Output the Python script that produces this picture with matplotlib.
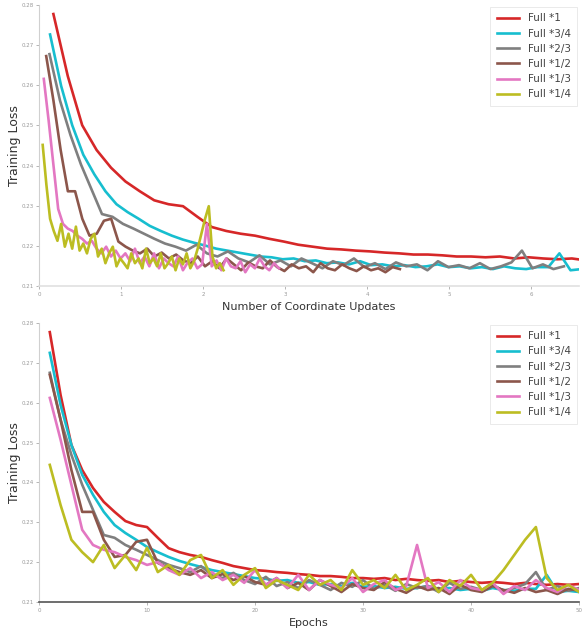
import numpy as np
import matplotlib
matplotlib.use("Agg")
import matplotlib.pyplot as plt

# training loss per epoch (epochs 1..50), one list per subset size
labels = ["Full *1", "Full *3/4", "Full *2/3", "Full *1/2", "Full *1/3", "Full *1/4"]
colors = ["#d62728", "#17becf", "#7f7f7f", "#8c564b", "#e377c2", "#bcbd22"]

loss_1 = [0.2777, 0.2619, 0.2494, 0.2431, 0.2386, 0.2351, 0.2326, 0.2303, 0.2293, 0.2288,
          0.2261, 0.2235, 0.2225, 0.2218, 0.2213, 0.2205, 0.2198, 0.2190, 0.2185, 0.2180,
          0.2178, 0.2175, 0.2173, 0.2170, 0.2168, 0.2165, 0.2165, 0.2163, 0.2160, 0.2160,
          0.2158, 0.2160, 0.2155, 0.2158, 0.2155, 0.2153, 0.2155, 0.2150, 0.2153, 0.2150,
          0.2148, 0.2150, 0.2148, 0.2145, 0.2148, 0.2145, 0.2143, 0.2145, 0.2143, 0.2145]
loss_3_4 = [0.2725, 0.2594, 0.2494, 0.2419, 0.2369, 0.2326, 0.2293, 0.2273, 0.2256, 0.2238,
            0.2225, 0.2213, 0.2203, 0.2195, 0.2188, 0.2180, 0.2175, 0.2170, 0.2165, 0.2160,
            0.2158, 0.2153, 0.2155, 0.2148, 0.2150, 0.2143, 0.2145, 0.2140, 0.2148, 0.2138,
            0.2140, 0.2135, 0.2138, 0.2133, 0.2135, 0.2140, 0.2133, 0.2135, 0.2130, 0.2133,
            0.2128, 0.2135, 0.2130, 0.2128, 0.2133, 0.2133, 0.2168, 0.2125, 0.2128, 0.2125]
loss_2_3 = [0.2675, 0.2557, 0.2469, 0.2394, 0.2331, 0.2268, 0.2261, 0.2243, 0.2231, 0.2218,
            0.2205, 0.2193, 0.2185, 0.2175, 0.2190, 0.2168, 0.2160, 0.2173, 0.2155, 0.2145,
            0.2163, 0.2140, 0.2150, 0.2135, 0.2155, 0.2143, 0.2130, 0.2148, 0.2138, 0.2155,
            0.2133, 0.2143, 0.2128, 0.2145, 0.2135, 0.2140, 0.2125, 0.2148, 0.2133, 0.2138,
            0.2130, 0.2143, 0.2128, 0.2135, 0.2145, 0.2175, 0.2130, 0.2140, 0.2128, 0.2135]
loss_1_2 = [0.2670, 0.2557, 0.2431, 0.2326, 0.2326, 0.2256, 0.2213, 0.2218, 0.2251, 0.2256,
            0.2198, 0.2185, 0.2175, 0.2168, 0.2180, 0.2160, 0.2170, 0.2155, 0.2165, 0.2150,
            0.2143, 0.2160, 0.2135, 0.2148, 0.2130, 0.2155, 0.2140, 0.2125, 0.2145, 0.2135,
            0.2130, 0.2150, 0.2133, 0.2123, 0.2140, 0.2130, 0.2135, 0.2120, 0.2143, 0.2130,
            0.2125, 0.2140, 0.2130, 0.2123, 0.2135, 0.2125, 0.2130, 0.2120, 0.2133, 0.2128]
loss_1_3 = [0.2612, 0.2507, 0.2394, 0.2281, 0.2243, 0.2231, 0.2225, 0.2213, 0.2205, 0.2193,
            0.2200, 0.2180, 0.2168, 0.2185, 0.2160, 0.2175, 0.2155, 0.2168, 0.2148, 0.2180,
            0.2143, 0.2160, 0.2135, 0.2168, 0.2130, 0.2155, 0.2143, 0.2135, 0.2160, 0.2125,
            0.2145, 0.2155, 0.2130, 0.2140, 0.2243, 0.2135, 0.2150, 0.2125, 0.2155, 0.2135,
            0.2130, 0.2148, 0.2120, 0.2140, 0.2130, 0.2155, 0.2135, 0.2125, 0.2143, 0.2130]
loss_1_4 = [0.2444, 0.2343, 0.2256, 0.2225, 0.2200, 0.2243, 0.2185, 0.2218, 0.2180, 0.2236,
            0.2175, 0.2193, 0.2168, 0.2205, 0.2218, 0.2160, 0.2180, 0.2143, 0.2168, 0.2185,
            0.2135, 0.2155, 0.2143, 0.2130, 0.2168, 0.2143, 0.2155, 0.2130, 0.2180, 0.2143,
            0.2155, 0.2135, 0.2168, 0.2130, 0.2143, 0.2160, 0.2125, 0.2155, 0.2140, 0.2168,
            0.2130, 0.2148, 0.2180, 0.2218, 0.2256, 0.2288, 0.2160, 0.2130, 0.2143, 0.2125]
losses = [loss_1, loss_3_4, loss_2_3, loss_1_2, loss_1_3, loss_1_4]

# coordinate updates done per epoch (axis units) for each subset size
updates_per_epoch = [0.1756, 0.135, 0.128, 0.088, 0.0585, 0.045]

epochs = np.arange(1, 51)
yticks_top = [0.2085, 0.2187, 0.2289, 0.2391, 0.2494, 0.2596, 0.2698, 0.28]
yticks_bottom = [0.21, 0.22, 0.23, 0.24, 0.25, 0.26, 0.27, 0.28]


def style_axes(ax, bottom_color):
    ax.spines["top"].set_visible(False)
    ax.spines["right"].set_visible(False)
    ax.spines["left"].set_color("#d0d0d0")
    ax.spines["left"].set_linewidth(0.8)
    ax.spines["bottom"].set_color(bottom_color)
    ax.spines["bottom"].set_linewidth(1.2)
    ax.tick_params(labelsize=4, colors="#999999", length=2, width=0.5, pad=2)
    ax.set_ylabel("Training Loss", fontsize=9, color="#333333")
    ax.yaxis.set_label_coords(-0.033, 0.5)
    leg = ax.legend(loc="upper right", fontsize=7.5, handlelength=2.2,
                    labelspacing=0.5, borderpad=0.6, framealpha=1, fancybox=False,
                    borderaxespad=0.2)
    leg.get_frame().set_edgecolor("#e6e6e6")
    leg.get_frame().set_linewidth(0.6)
    for t in leg.get_texts():
        t.set_color("#444444")


fig = plt.figure(figsize=(5.82, 6.32), dpi=100)
ax1 = fig.add_axes([0.067, 0.5475, 0.928, 0.4446])
ax2 = fig.add_axes([0.067, 0.0475, 0.928, 0.4415])

for lab, col, loss, upe in zip(labels, colors, losses, updates_per_epoch):
    ax1.plot(epochs * upe, loss, color=col, lw=1.9, label=lab)
    ax2.plot(epochs, loss, color=col, lw=1.9, label=lab)

ax1.set_xlim(0, 6.585)
ax1.set_xticks([0, 1, 2, 3, 4, 5, 6])
ax1.set_ylim(0.2085, 0.28)
ax1.set_yticks(yticks_top)
ax1.set_yticklabels([f"{v:.2f}" for v in yticks_top])
ax1.set_xlabel("Number of Coordinate Updates", fontsize=8, color="#333333", labelpad=4)
style_axes(ax1, "#e0e0e0")

ax2.set_xlim(0, 50)
ax2.set_xticks([0, 10, 20, 30, 40, 50])
ax2.set_ylim(0.21, 0.28)
ax2.set_yticks(yticks_bottom)
ax2.set_xlabel("Epochs", fontsize=8, color="#333333", labelpad=4)
style_axes(ax2, "#555555")

fig.savefig("out.png", dpi=100)
